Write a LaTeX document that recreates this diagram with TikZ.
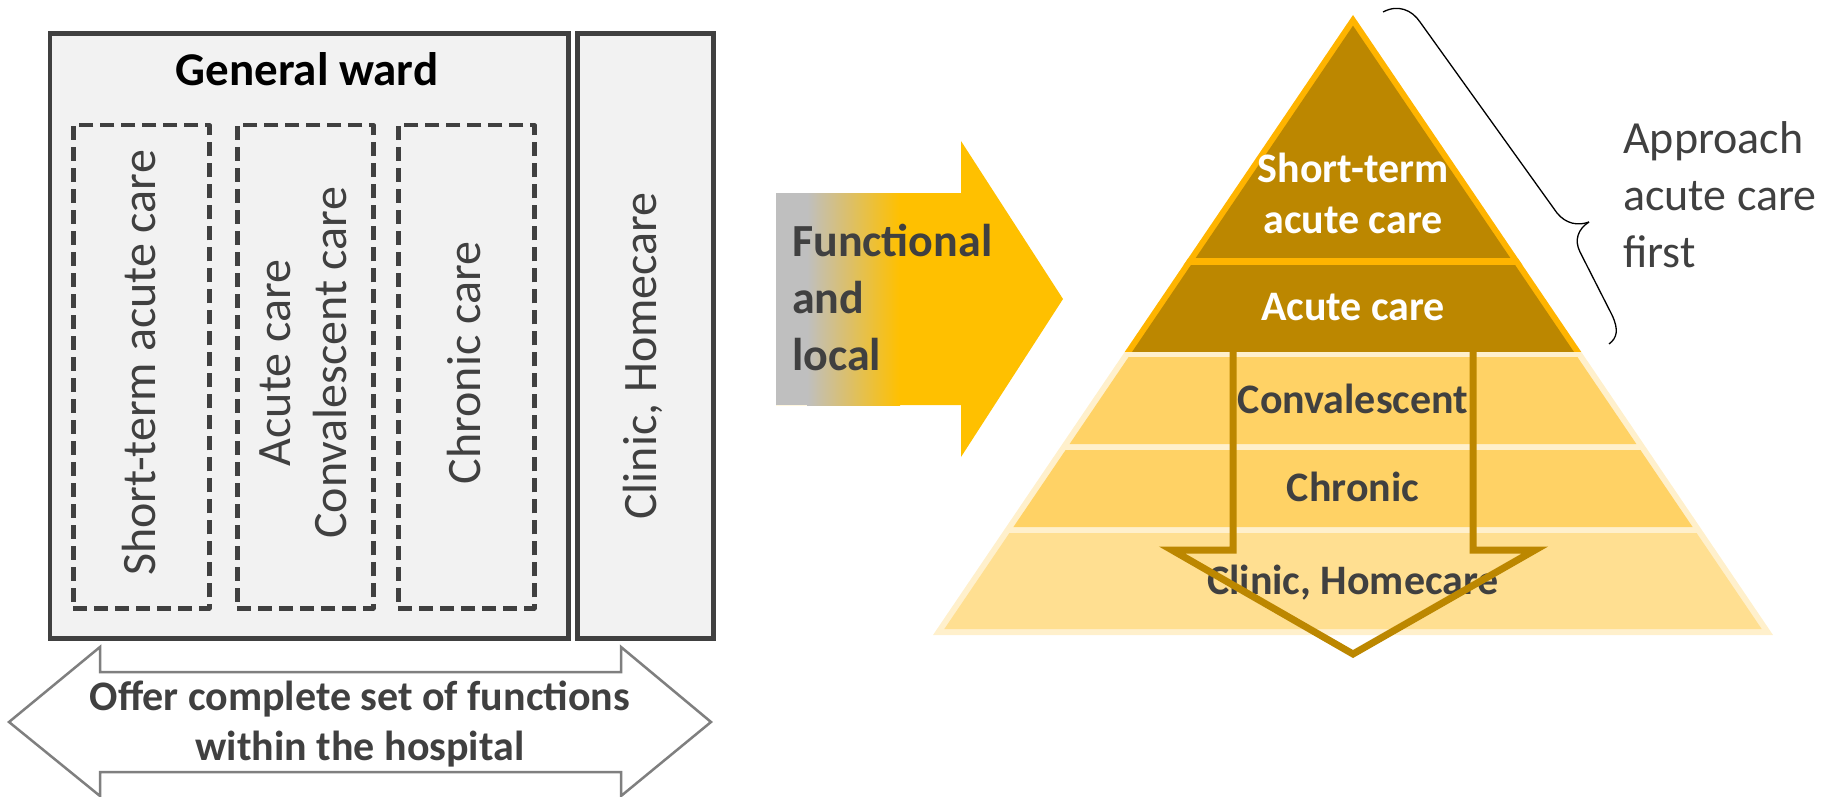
\documentclass[tikz,border=0pt]{standalone}
\usepackage{fontspec}
\setmainfont{Carlito}
\definecolor{dg}{HTML}{404040}
\definecolor{boxbg}{HTML}{F2F2F2}
\definecolor{arrgray}{HTML}{7F7F7F}
\definecolor{goldc}{HTML}{FFC000}
\definecolor{grayc}{HTML}{BFBFBF}
\definecolor{darkg}{RGB}{188,135,0}
\definecolor{orangeb}{HTML}{FFB400}
\definecolor{creamc}{HTML}{FFF0CC}
\definecolor{bandc}{HTML}{FFD265}
\definecolor{bandl}{HTML}{FFDF91}
\begin{document}
\begin{tikzpicture}[x=1pt,y=-1pt,
  wardbox/.style={draw=dg, line width=4.5pt, fill=boxbg, inner sep=0pt},
  dashbox/.style={draw=dg, line width=4.5pt, dash pattern=on 14pt off 7pt, line join=round, inner sep=0pt},
  vtext/.style={rotate=90, font=\fontsize{48}{56}\selectfont, text=dg, align=center, inner sep=0pt},
  boldtxt/.style={font=\bfseries\fontsize{42}{50}\selectfont, inner sep=0pt, align=center},
  pyrtxt/.style={boldtxt, anchor=base},
]
\useasboundingbox (0,0) rectangle (1845,797);

% ---------- left boxes ----------
\node[wardbox, anchor=north west, minimum width=518.5pt, minimum height=604.5pt] (gw) at (47.5,31.5) {};
\node[wardbox, anchor=north west, minimum width=136pt, minimum height=604.5pt] (cl) at (575,31.5) {};
\node[anchor=base, inner sep=0pt, font=\bfseries\fontsize{47}{56}\selectfont] (gwt) at (307,86) {General ward};

\node[dashbox, anchor=north west, minimum width=136pt, minimum height=483pt] (d1) at (71,123) {};
\node[dashbox, anchor=north west, minimum width=136pt, minimum height=483pt] (d2) at (235,123) {};
\node[dashbox, anchor=north west, minimum width=136pt, minimum height=483pt] (d3) at (396,123) {};

\node[vtext] (t1) at (139,363) {Short-term acute care};
\node[vtext] (t2) at (303,363) {Acute care\\Convalescent care};
\node[vtext] (t3) at (464,363) {Chronic care};
\node[vtext] (t4) at (643,356) {Clinic, Homecare};

% ---------- double arrow ----------
\draw[arrgray, line width=2.5pt, fill=white, line join=miter]
  (9,722) -- (100,647) -- (100,672) -- (621,672) -- (621,647) -- (711,722)
  -- (621,796) -- (621,772) -- (100,772) -- (100,796) -- cycle;
\node[boldtxt, text=dg, anchor=base] (offer) at (360,760) {Offer complete set of functions\\within the hospital};

% ---------- functional arrow ----------
\fill[goldc] (776,193) -- (961,193) -- (961,141) -- (1063,299) -- (961,457) -- (961,405) -- (776,405) -- cycle;
\fill[grayc] (776,193) rectangle (808,405);
\shade[left color=grayc, right color=goldc] (807,193) rectangle (900,405);
\node[anchor=base west, inner sep=0pt, align=left, text=dg, font=\bfseries\fontsize{46}{57}\selectfont] (func) at (792,370) {Functional\\and\\local};

% ---------- pyramid ----------
\fill[orangeb] (1353,15) -- (1124.7,352) -- (1581.3,352) -- cycle;
\fill[darkg] (1353,25.7) -- (1132,352) -- (1574,352) -- cycle;
\begin{scope}
  \clip (1353,15) -- (1124.7,352) -- (1581.3,352) -- cycle;
  \fill[orangeb] (1100,258) rectangle (1600,265);
\end{scope}
\fill[creamc] (1124.7,352) -- (933,635) -- (1773,635) -- (1581.3,352) -- cycle;
\fill[bandc] (1128.6,357) -- (1069.6,444) -- (1636.4,444) -- (1577.4,357) -- cycle;
\fill[bandc] (1065.6,450) -- (1013.4,527) -- (1692.6,527) -- (1640.4,450) -- cycle;
\fill[bandl] (1009.4,533) -- (944.3,629) -- (1761.7,629) -- (1696.6,533) -- cycle;

\node[pyrtxt, text=white, font=\bfseries\fontsize{42}{51}\selectfont] (p1) at (1353,233) {Short-term\\acute care};
\node[pyrtxt, text=white] (p2) at (1353,320) {Acute care};
\node[pyrtxt, text=dg] (p3) at (1353,413) {Convalescent};
\node[pyrtxt, text=dg] (p4) at (1353,501) {Chronic};
\node[pyrtxt, text=dg] (p5) at (1353,594) {Clinic, Homecare};

\draw[darkg, line width=7pt, line join=miter]
  (1233,352) -- (1233,550) -- (1172,550) -- (1353,654) -- (1535,550) -- (1473,550) -- (1473,352);

% ---------- brace and note ----------
\draw[black, line width=1.3pt]
  (1383,12) .. controls (1398,4) and (1412,10) .. (1420,22) -- (1557,213)
  .. controls (1566,224) and (1578,226) .. (1589,222);
\draw[black, line width=1.3pt]
  (1589,222) .. controls (1578,229) and (1574,240) .. (1580,252) -- (1612,315)
  .. controls (1619,330) and (1617,338) .. (1609,344);
\node[anchor=base west, inner sep=0pt, align=left, text=dg, font=\fontsize{46}{57}\selectfont] (note) at (1623,267) {Approach\\acute care\\first};
\end{tikzpicture}
\end{document}
